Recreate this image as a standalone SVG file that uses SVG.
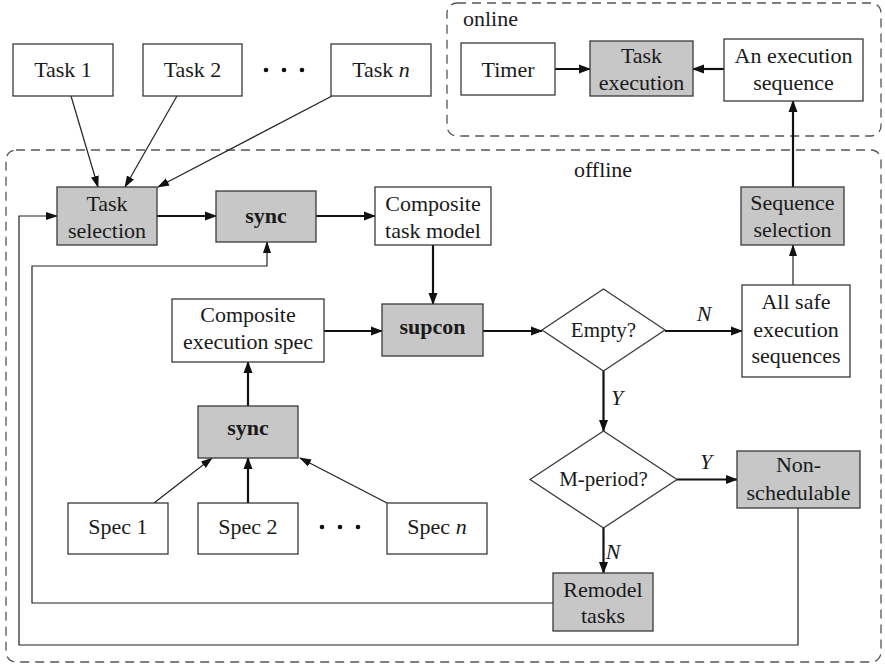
<svg xmlns="http://www.w3.org/2000/svg" width="885" height="664" viewBox="0 0 885 664">
<style>
.box{stroke:#3a3a3a;stroke-width:1.3;fill:#fff}
.g{fill:#c6c7c6}
.t{font-family:"Liberation Serif","Times New Roman",serif;font-size:22px;fill:#1a1a1a;text-anchor:middle}
.b{font-weight:bold}
.i{font-style:italic}
.d{font-size:21px}
.dash{fill:none;stroke:#555;stroke-width:1.3;stroke-dasharray:9 6}
.c{fill:none;stroke:#111;stroke-width:2.2}
.c1{fill:none;stroke:#222;stroke-width:1.2}
.dot{fill:#111}
</style>
<defs>
<marker id="a" markerUnits="userSpaceOnUse" markerWidth="12" markerHeight="10" viewBox="0 0 12 10" refX="11" refY="5" orient="auto"><path d="M0,0.5 L12,5 L0,9.5 z" fill="#111"/></marker>
<marker id="s" markerUnits="userSpaceOnUse" markerWidth="12" markerHeight="10" viewBox="0 0 12 10" refX="11" refY="5" orient="auto"><path d="M0,1 L12,5 L0,9 z" fill="#111"/></marker>
</defs>
<g id="regions">
<rect class="dash" x="447" y="3" width="434" height="133" rx="10"/>
<text class="t" x="463" y="26" style="text-anchor:start">online</text>
<rect class="dash" x="6" y="150" width="875" height="512" rx="10"/>
<text class="t" x="603" y="177">offline</text>
</g>
<g id="connectors">
<line class="c1" x1="71" y1="96" x2="98" y2="187" marker-end="url(#s)"/>
<line class="c1" x1="177" y1="96" x2="125" y2="187" marker-end="url(#s)"/>
<line class="c1" x1="332" y1="96" x2="158" y2="187" marker-end="url(#s)"/>
<line class="c" x1="157" y1="216" x2="216" y2="216" marker-end="url(#a)"/>
<line class="c" x1="316" y1="216" x2="375" y2="216" marker-end="url(#a)"/>
<line class="c" x1="433" y1="245" x2="433" y2="304" marker-end="url(#a)"/>
<line class="c" x1="324" y1="331" x2="382" y2="331" marker-end="url(#a)"/>
<line class="c" x1="483" y1="331" x2="542" y2="331" marker-end="url(#a)"/>
<line class="c" x1="665" y1="331" x2="742" y2="331" marker-end="url(#a)"/>
<line class="c1" x1="793" y1="285" x2="793" y2="245" marker-end="url(#s)"/>
<line class="c" x1="793" y1="187" x2="793" y2="101" marker-end="url(#a)"/>
<line class="c" x1="555" y1="69" x2="590" y2="69" marker-end="url(#a)"/>
<line class="c" x1="724" y1="69" x2="693" y2="69" marker-end="url(#a)"/>
<line class="c" x1="603.5" y1="371" x2="603.5" y2="431" marker-end="url(#a)"/>
<line class="c" x1="677" y1="479.5" x2="737" y2="479.5" marker-end="url(#a)"/>
<line class="c" x1="603.5" y1="528" x2="603.5" y2="573" marker-end="url(#a)"/>
<line class="c" x1="248" y1="406" x2="248" y2="362" marker-end="url(#a)"/>
<line class="c1" x1="154" y1="503" x2="212" y2="458" marker-end="url(#s)"/>
<line class="c" x1="248" y1="503" x2="248" y2="458" marker-end="url(#a)"/>
<line class="c1" x1="387" y1="503" x2="300" y2="458" marker-end="url(#s)"/>
<polyline class="c1" points="553,603 32,603 32,266 267,266 267,242" marker-end="url(#s)"/>
<polyline class="c1" points="798,508 798,645 19,645 19,216 57,216" marker-end="url(#s)"/>
<text class="t i" x="704" y="321">N</text>
<text class="t i" x="617" y="405">Y</text>
<text class="t i" x="706" y="469">Y</text>
<text class="t i" x="613" y="559">N</text>
</g>
<g id="task1"><rect class="box" x="13" y="44" width="100" height="52"/><text class="t" x="63" y="77">Task 1</text></g>
<g id="task2"><rect class="box" x="143" y="44" width="99" height="52"/><text class="t" x="192.5" y="77">Task 2</text></g>
<g id="taskdots"><circle class="dot" cx="266" cy="70" r="2.3"/><circle class="dot" cx="284" cy="70" r="2.3"/><circle class="dot" cx="302" cy="70" r="2.3"/></g>
<g id="taskn"><rect class="box" x="331" y="44" width="100" height="52"/><text class="t" x="381" y="77">Task <tspan class="i">n</tspan></text></g>
<g id="timer"><rect class="box" x="461" y="43" width="94" height="52"/><text class="t" x="508" y="77">Timer</text></g>
<g id="taskexec"><rect class="box g" x="590" y="41" width="103" height="55"/><text class="t" x="641.5" y="63">Task</text><text class="t" x="641.5" y="90">execution</text></g>
<g id="anexec"><rect class="box" x="724" y="39" width="139" height="62"/><text class="t" x="793.5" y="63">An execution</text><text class="t" x="793.5" y="90">sequence</text></g>
<g id="tasksel"><rect class="box g" x="57" y="187" width="100" height="58"/><text class="t" x="107" y="211">Task</text><text class="t" x="107" y="238">selection</text></g>
<g id="sync1"><rect class="box g" x="216" y="191" width="100" height="51"/><text class="t b" x="266" y="223">sync</text></g>
<g id="comptask"><rect class="box" x="375" y="187" width="116" height="58"/><text class="t" x="433" y="211">Composite</text><text class="t" x="433" y="238">task model</text></g>
<g id="seqsel"><rect class="box g" x="741" y="187" width="103" height="58"/><text class="t" x="792.5" y="210">Sequence</text><text class="t" x="792.5" y="237">selection</text></g>
<g id="compexec"><rect class="box" x="172" y="299" width="152" height="63"/><text class="t" x="248" y="322">Composite</text><text class="t" x="248" y="349">execution spec</text></g>
<g id="supcon"><rect class="box g" x="382" y="304" width="101" height="52"/><text class="t b" x="432.5" y="334">supcon</text></g>
<g id="empty"><polygon class="box" points="542,330 603.5,289 665,330 603.5,371"/><text class="t d" x="603.5" y="337">Empty?</text></g>
<g id="allsafe"><rect class="box" x="742" y="285" width="108" height="92"/><text class="t" x="796" y="309">All safe</text><text class="t" x="796" y="337">execution</text><text class="t" x="796" y="363">sequences</text></g>
<g id="sync2"><rect class="box g" x="198" y="406" width="100" height="52"/><text class="t b" x="248" y="435">sync</text></g>
<g id="mperiod"><polygon class="box" points="530,479.5 603.5,431 677,479.5 603.5,528"/><text class="t d" x="603.5" y="486">M-period?</text></g>
<g id="nonsched"><rect class="box g" x="737" y="451" width="123" height="57"/><text class="t" x="798.5" y="472">Non-</text><text class="t" x="798.5" y="500">schedulable</text></g>
<g id="spec1"><rect class="box" x="68" y="503" width="100" height="51"/><text class="t" x="118" y="534">Spec 1</text></g>
<g id="spec2"><rect class="box" x="198" y="503" width="100" height="51"/><text class="t" x="248" y="534">Spec 2</text></g>
<g id="specdots"><circle class="dot" cx="322" cy="527" r="2.3"/><circle class="dot" cx="340" cy="527" r="2.3"/><circle class="dot" cx="358" cy="527" r="2.3"/></g>
<g id="specn"><rect class="box" x="387" y="503" width="100" height="51"/><text class="t" x="437" y="534">Spec <tspan class="i">n</tspan></text></g>
<g id="remodel"><rect class="box g" x="553" y="573" width="100" height="58"/><text class="t" x="603" y="597">Remodel</text><text class="t" x="603" y="623">tasks</text></g>
</svg>
